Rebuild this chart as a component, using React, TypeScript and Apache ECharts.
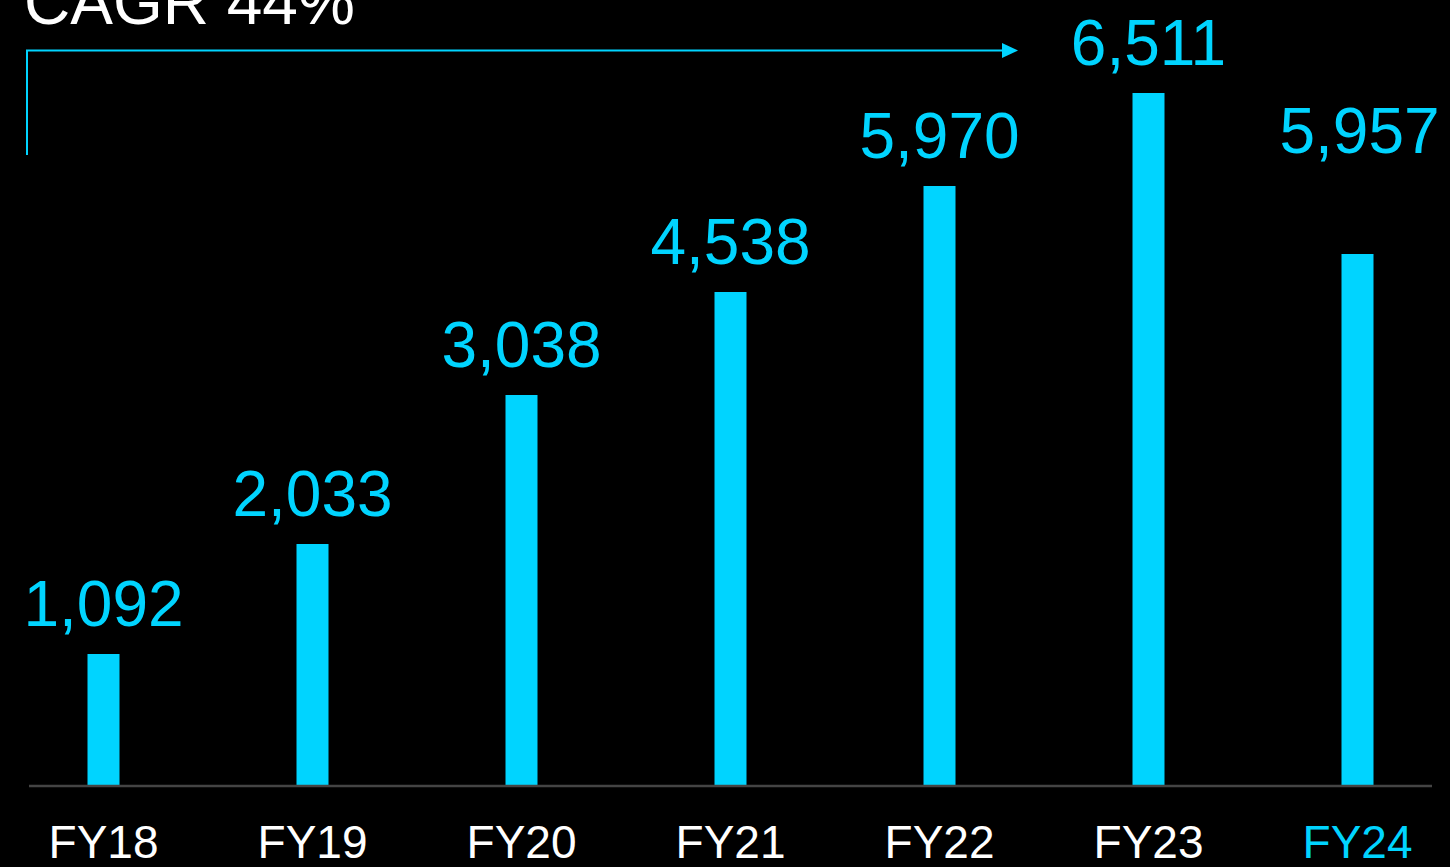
import React, { useEffect, useRef } from "react";
import * as echarts from "echarts";

const categories = ["FY18", "FY19", "FY20", "FY21", "FY22", "FY23", "FY24"];
// Printed values above each bar
const reported = [1092, 2033, 3038, 4538, 5970, 6511, 5957];
// Bar heights as drawn in the picture (the original is not drawn to scale)
const barHeights = [1233, 2268, 3670, 4639, 5636, 6511, 4996];
const cagrText = "CAGR 44%";

const CYAN = "#00D4FF";
const FONT = "'Liberation Sans', Arial, Helvetica, sans-serif";
const SHIFT = 1; // chart div starts 1px left of the page

export default function App() {
  const ref = useRef<HTMLDivElement>(null);
  useEffect(() => {
    document.body.style.margin = "0";
    document.body.style.background = "#000";
    const chart = echarts.init(ref.current!, null, { renderer: "svg" });
    const lastIdx = categories.length - 1;
    chart.setOption({
      animation: false,
      backgroundColor: "#000000",
      grid: { left: 0, right: 0, top: 41, bottom: 82, containLabel: false },
      xAxis: {
        type: "category",
        data: categories,
        axisLine: { show: false },
        axisTick: { show: false },
        axisLabel: {
          fontSize: 46,
          fontFamily: FONT,
          margin: 34,
          color: (_v: any, i: number) => (i === lastIdx ? CYAN : "#FFFFFF"),
        },
      },
      yAxis: {
        type: "value",
        min: 0,
        max: 7000,
        show: false,
        splitLine: { show: false },
      },
      series: [
        {
          type: "bar",
          barWidth: 32,
          itemStyle: { color: CYAN },
          label: {
            show: true,
            position: "top",
            distance: 18,
            fontSize: 64,
            fontFamily: FONT,
            color: CYAN,
            formatter: (p: any) => reported[p.dataIndex].toLocaleString("en-US"),
          },
          data: barHeights.map((v, i) =>
            i === lastIdx
              ? { value: v, label: { distance: 91, offset: [2, 0] } }
              : v
          ),
        },
      ],
      graphic: [
        {
          type: "line",
          shape: { x1: 29 + SHIFT, y1: 786, x2: 1432 + SHIFT, y2: 786 },
          style: { stroke: "#444444", lineWidth: 2.5 },
          z: 10,
        },
        {
          type: "polyline",
          shape: {
            points: [
              [27 + SHIFT, 155],
              [27 + SHIFT, 50.5],
              [1003 + SHIFT, 50.5],
            ],
          },
          style: { stroke: CYAN, lineWidth: 2, fill: null },
        },
        {
          type: "polygon",
          shape: {
            points: [
              [1002 + SHIFT, 43],
              [1018 + SHIFT, 50.5],
              [1002 + SHIFT, 58],
            ],
          },
          style: { fill: CYAN },
        },
        {
          type: "text",
          x: 24 + SHIFT,
          y: 2,
          style: {
            text: cagrText,
            font: `64px ${FONT}`,
            fill: "#FFFFFF",
            verticalAlign: "middle",
            align: "left",
          },
        },
      ],
    });
    return () => chart.dispose();
  }, []);
  return (
    <div
      ref={ref}
      style={{ position: "fixed", left: -SHIFT, top: 0, width: 1463, height: 867, background: "#000" }}
    />
  );
}
